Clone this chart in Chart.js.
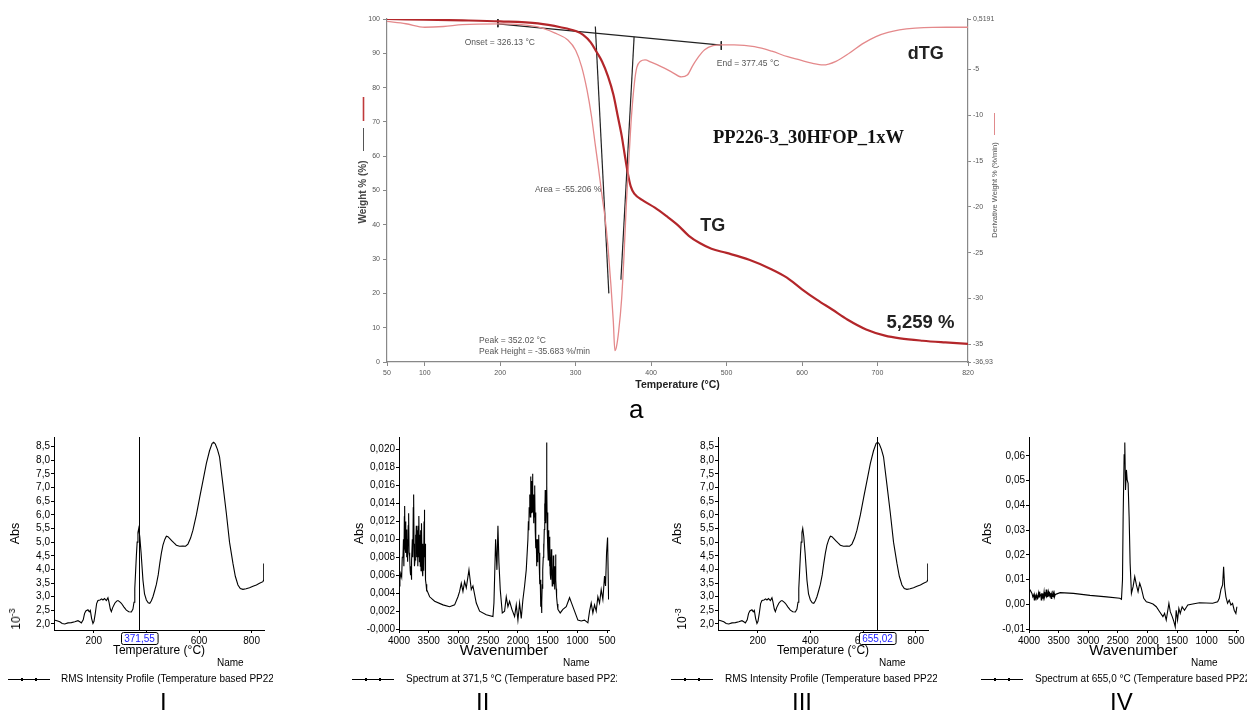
<!DOCTYPE html>
<html><head><meta charset="utf-8">
<script src="https://cdn.jsdelivr.net/npm/chart.js@4.4.1/dist/chart.umd.min.js"></script>
<style>
html,body{margin:0;padding:0;background:#fff;}
#wrap{position:relative;width:1249px;height:710px;overflow:hidden;font-family:"Liberation Sans",Arial,sans-serif;background:#fff;}
canvas{position:absolute;}
.t{position:absolute;white-space:nowrap;line-height:1;color:#000;}
.clip{overflow:hidden;}
.lg{position:absolute;height:1px;background:#000;}
.dot{position:absolute;width:2px;height:3px;background:#000;top:-1px;}
.rot{position:absolute;transform:translate(-50%,-50%) rotate(-90deg);white-space:nowrap;line-height:1;font-size:12px;}
.rot sup{font-size:9px;}
</style></head><body>
<div id="wrap">
<canvas id="main" width="700" height="400" style="left:330px;top:0;width:700px;height:400px"></canvas>
<canvas id="p1" width="280" height="232" style="left:0;top:430px;width:280px;height:232px"></canvas>
<canvas id="p2" width="290" height="232" style="left:330px;top:430px;width:290px;height:232px"></canvas>
<canvas id="p3" width="280" height="232" style="left:660px;top:430px;width:280px;height:232px"></canvas>
<canvas id="p4" width="289" height="232" style="left:960px;top:430px;width:289px;height:232px"></canvas>

<div class="t" style="left:629px;top:396px;font-size:26px;">a</div>

<div class="rot" style="left:15px;top:619px;">10<sup>-3</sup></div>
<div class="rot" style="left:681px;top:619px;">10<sup>-3</sup></div>

<div class="t" style="left:217px;top:658px;font-size:10px;">Name</div>
<div class="lg" style="left:8px;top:679px;width:42px;"><div class="dot" style="left:13px"></div><div class="dot" style="left:27px"></div></div>
<div class="t clip" style="left:61px;top:674px;width:212px;font-size:10px;">RMS Intensity Profile (Temperature based PP226-3_30HFOP_1xW)</div>
<div class="t" style="left:160px;top:690px;font-size:24px;">I</div>

<div class="t" style="left:563px;top:658px;font-size:10px;">Name</div>
<div class="lg" style="left:352px;top:679px;width:42px;"><div class="dot" style="left:13px"></div><div class="dot" style="left:27px"></div></div>
<div class="t clip" style="left:406px;top:674px;width:211px;font-size:10px;">Spectrum at 371,5 °C (Temperature based PP226-3_30HFOP_1xW)</div>
<div class="t" style="left:476px;top:690px;font-size:24px;">II</div>

<div class="t" style="left:879px;top:658px;font-size:10px;">Name</div>
<div class="lg" style="left:671px;top:679px;width:42px;"><div class="dot" style="left:13px"></div><div class="dot" style="left:27px"></div></div>
<div class="t clip" style="left:725px;top:674px;width:212px;font-size:10px;">RMS Intensity Profile (Temperature based PP226-3_30HFOP_1xW)</div>
<div class="t" style="left:792px;top:690px;font-size:24px;">III</div>

<div class="t" style="left:1191px;top:658px;font-size:10px;">Name</div>
<div class="lg" style="left:981px;top:679px;width:42px;"><div class="dot" style="left:13px"></div><div class="dot" style="left:27px"></div></div>
<div class="t clip" style="left:1035px;top:674px;width:212px;font-size:10px;">Spectrum at 655,0 °C (Temperature based PP226-3_30HFOP_1xW)</div>
<div class="t" style="left:1110px;top:690px;font-size:24px;">IV</div>
</div>
<script>
// ---------------- DATA ----------------
// Main TGA chart
const mainXTicks = [50, 100, 200, 300, 400, 500, 600, 700, 820];
const mainXLabels = ['50', '100', '200', '300', '400', '500', '600', '700', '820'];
const mainYTicks = [0, 10, 20, 30, 40, 50, 60, 70, 80, 90, 100];
const mainYLabels = ['0', '10', '20', '30', '40', '50', '60', '70', '80', '90', '100'];
const mainY2Ticks = [-36.93, -35, -30, -25, -20, -15, -10, -5, 0.5191];
const mainY2Labels = ['-36,93', '-35', '-30', '-25', '-20', '-15', '-10', '-5', '0,5191'];

const tgTemp = [50,100,150,200,250,280,300,310,320,328,335,343,350,356,361,365,369,373,378,390,405,420,435,450,465,480,500,530,560,580,600,620,640,660,685,710,730,760,790,820];
const tgWeight = [100,99.8,99.6,99.3,98.7,97.6,96.5,95.4,93.2,90.3,87.6,83.2,78,71.5,66,60.5,55.2,51.2,49,47,45,42.6,40,36.8,34.6,33,31.8,29.8,27,24.6,21.2,18.1,15.3,12.4,9.5,7.7,6.9,6.2,5.7,5.26];

const dtgTemp = [50,75,100,125,150,200,250,272,290,300,308,315,321,326,330,335,339,343,347,350,352,354,357,361,364,367.5,371,374,378,381,386,392,400,414,428,440,448,455,463,471,482,493,510,537,560,581,597,613,628,645,663,680,698,714,729,750,773,800,820];
const dtgValue = [0.25,0.0,-0.38,-0.3,-0.1,-0.02,-0.35,-1.0,-1.8,-2.9,-4.7,-7.2,-10.1,-13.2,-15.6,-18.8,-21.2,-24.5,-28.8,-32.6,-35.68,-35.3,-33.6,-30,-25.5,-19.2,-14.2,-10.1,-6.4,-4.8,-4.1,-3.95,-4.2,-4.7,-5.3,-5.8,-5.6,-4.6,-3.6,-2.85,-2.4,-2.3,-2.3,-2.5,-3.0,-3.6,-3.95,-4.3,-4.5,-4.1,-3.2,-2.2,-1.4,-0.95,-0.68,-0.48,-0.39,-0.38,-0.38];

const baseLineTemp = [197, 493];
const baseLineWeight = [98.6, 92.4];
const onsetLineTemp = [326.1, 344];
const onsetLineWeight = [97.8, 20];
const endLineTemp = [377.5, 360];
const endLineWeight = [94.8, 24];
const tickATemp = [197, 197];
const tickAWeight = [100.2, 97.6];
const tickBTemp = [493, 493];
const tickBWeight = [93.5, 91];

// RMS intensity profile (x 10^-3)
const rmsTemp = [49,60,71,80,90,102,115,128,140,147,153,160,165,170,178,183,187,192,197,201,206,211,216,224,230,235,241,248,254,258,263,267,272,280,287,292,298,305,315,324,333,343,349,353,356,359,362,365,368,371,375,380,387,393,400,407,413,419,425,431,438,445,451,457,463,470,476,482,490,497,505,514,526,539,549,558,568,577,590,603,615,628,640,650,656,662,670,678,691,704,716,729,738,748,757,767,779,792,805,818,830,843,845,846];
const rmsAbs = [2.15,2.12,2.08,2.02,2.0,2.04,2.05,2.08,2.12,2.08,2.04,2.15,2.38,2.48,2.52,2.45,2.5,2.2,2.02,2.1,2.4,2.75,2.86,2.88,2.92,2.88,2.93,2.86,2.96,2.8,2.55,2.45,2.6,2.76,2.84,2.86,2.82,2.76,2.62,2.51,2.45,2.44,2.55,2.8,3.3,3.9,4.5,5.0,5.35,5.5,5.2,4.6,3.61,3.1,2.88,2.78,2.76,2.85,3.0,3.2,3.45,3.8,4.22,4.6,4.89,5.1,5.22,5.2,5.12,5.05,4.97,4.89,4.85,4.86,4.85,4.93,5.15,5.44,6.0,6.66,7.25,7.89,8.35,8.62,8.66,8.6,8.4,8.13,7.1,6.05,5.0,4.22,3.75,3.43,3.3,3.27,3.29,3.33,3.38,3.43,3.49,3.55,3.6,4.22];
const rmsXTicks = [200, 400, 600, 800];
const rmsXLabels = ['200', '400', '600', '800'];
const rmsYTicks = [2.0, 2.5, 3.0, 3.5, 4.0, 4.5, 5.0, 5.5, 6.0, 6.5, 7.0, 7.5, 8.0, 8.5];
const rmsYLabels = ['2,0', '2,5', '3,0', '3,5', '4,0', '4,5', '5,0', '5,5', '6,0', '6,5', '7,0', '7,5', '8,0', '8,5'];

// Spectrum at 371,5 °C
const spec371Wn = [
  4000,3985,3970,3955,3945,3933,3925,3918,3910,3905,
  3898,3890,3883,3877,3870,3865,3860,3850,3845,3838,
  3830,3821,3812,3805,3798,3793,3785,3776,3768,3760,
  3754,3747,3740,3731,3724,3716,3709,3700,3692,3686,
  3681,3674,3669,3664,3657,3650,3642,3636,3630,3625,
  3619,3612,3605,3597,3590,3585,3579,3574,3568,3562,
  3557,3552,3545,3538,3530,
  3485,3401,3261,3149,3065,3009,2981,2953,2925,2897,
  2869,2824,2785,2757,2701,2645,2533,2421,2404,2376,
  2354,2337,2320,2298,2264,2225,2197,2169,2141,2102,
  2057,2029,2001,1973,1945,1917,1889,1861,
  1833,1825,1818,1812,1805,1798,1793,1788,1782,1777,
  1771,1765,1760,1755,1750,1744,1738,1732,1727,1721,
  1716,1710,1704,1698,1693,1687,1682,1676,1671,1665,
  1659,1654,1648,1642,1637,1631,1626,1620,1614,1609,
  1603,1598,1592,1587,1581,1575,1570,1564,1558,1553,
  1547,1542,1536,1530,1525,1519,1514,1508,1502,1497,
  1491,1486,1480,1474,1469,1463,1458,1452,1446,1441,
  1435,1430,1424,1418,1413,1407,1402,1396,1391,1385,
  1379,1374,1368,1362,1357,1351,1340,1329,
  1290,1245,1189,1133,1099,1049,993,937,881,825,
  797,769,741,713,685,657,629,601,573,545,
  528,511,494,477];
const spec371Abs = [
  0.0048,0.0055,0.0062,0.0058,0.0080,0.0081,0.0100,0.0070,0.0125,0.0137,
  0.0090,0.0120,0.0085,0.0111,0.0080,0.0100,0.0096,0.0075,0.0115,0.0129,
  0.0085,0.0081,0.0065,0.0060,0.0070,0.0055,0.0075,0.0100,0.0080,0.0135,
  0.0150,0.0095,0.0070,0.0077,0.0105,0.0085,0.0115,0.0080,0.0110,0.0070,
  0.0092,0.0115,0.0080,0.0126,0.0075,0.0105,0.0070,0.0110,0.0065,0.0105,
  0.0118,0.0068,0.0095,0.0059,0.0090,0.0065,0.0120,0.0133,0.0080,0.0095,
  0.0060,0.0055,0.0050,0.0042,0.0044,
  0.0036,0.0031,0.0027,0.0025,0.0027,0.0036,0.0042,0.0051,0.0042,0.0053,
  0.0046,0.0066,0.0044,0.0048,0.0029,0.0020,0.0016,0.0014,0.0029,0.0100,
  0.0066,0.0115,0.0074,0.0044,0.0018,0.0020,0.0036,0.0025,0.0031,0.0022,
  0.0014,0.0027,0.0010,0.0029,0.0012,0.0033,0.0048,0.0066,
  0.0100,0.0120,0.0110,0.0135,0.0137,0.0150,0.0125,0.0170,0.0140,0.0165,
  0.0129,0.0160,0.0140,0.0173,0.0130,0.0150,0.0118,0.0145,0.0125,0.0160,
  0.0155,0.0110,0.0130,0.0090,0.0100,0.0070,0.0095,0.0075,0.0081,0.0100,
  0.0085,0.0105,0.0103,0.0070,0.0085,0.0050,0.0055,0.0040,0.0025,0.0035,
  0.0018,0.0030,0.0050,0.0045,0.0066,0.0080,0.0095,0.0085,0.0111,0.0140,
  0.0120,0.0155,0.0140,0.0118,0.0150,0.0208,0.0160,0.0111,0.0130,0.0090,
  0.0077,0.0110,0.0080,0.0103,0.0070,0.0095,0.0062,0.0080,0.0055,0.0089,
  0.0060,0.0070,0.0048,0.0065,0.0055,0.0082,0.0077,0.0050,0.0065,0.0044,
  0.0070,0.0060,0.0083,0.0055,0.0045,0.0036,0.0028,0.0022,
  0.0018,0.0022,0.0025,0.0035,0.0029,0.0020,0.0010,0.0009,0.0010,0.0007,
  0.0020,0.0029,0.0018,0.0027,0.0020,0.0036,0.0029,0.0044,0.0033,0.0059,
  0.0048,0.0085,0.0102,0.0033];
const specXTicks = [4000, 3500, 3000, 2500, 2000, 1500, 1000, 500];
const specXLabels = ['4000', '3500', '3000', '2500', '2000', '1500', '1000', '500'];
const spec371YTicks = [0, 0.002, 0.004, 0.006, 0.008, 0.010, 0.012, 0.014, 0.016, 0.018, 0.020];
const spec371YLabels = ['-0,000', '0,002', '0,004', '0,006', '0,008', '0,010', '0,012', '0,014', '0,016', '0,018', '0,020'];

// Spectrum at 655,0 °C
const spec655Wn = [
  4000,3975,3950,3935,3920,3910,3900,3890,3877,3865,
  3849,3840,3830,3821,3810,3800,3793,3785,3775,3765,
  3755,3745,3737,3725,3715,3709,3700,3690,3681,3670,
  3660,3653,3645,3635,3625,3615,3605,3597,3585,3575,
  3569,3555,3541,
  3474,3250,2970,2690,2466,2438,2421,2410,2393,2382,
  2370,2354,2342,2326,2309,2292,2270,2242,2214,2186,
  2158,2130,2102,2062,2018,1962,1906,1850,1794,1738,
  1710,1682,1637,1614,1581,1553,1530,1514,1491,1469,
  1446,1413,1374,1318,1234,1122,1010,898,814,786,
  758,730,713,696,674,646,618,590,562,534,
  506,489];
const spec655Abs = [
  0.0064,0.0055,0.0044,0.0030,0.0038,0.0017,0.0035,0.0025,0.0038,0.0020,
  0.0024,0.0045,0.0030,0.0051,0.0035,0.0040,0.0017,0.0045,0.0025,0.0044,
  0.0028,0.0050,0.0030,0.0042,0.0035,0.0060,0.0028,0.0045,0.0030,0.0050,
  0.0035,0.0051,0.0030,0.0045,0.0024,0.0040,0.0032,0.0055,0.0035,0.0045,
  0.0030,0.0040,0.0041,
  0.0047,0.0044,0.0036,0.0030,0.0024,0.0020,0.0098,0.0354,0.0604,0.0654,
  0.0462,0.0543,0.0503,0.0489,0.0354,0.0166,0.0044,0.0071,0.0112,0.0078,
  0.0051,0.0085,0.0064,0.0024,0.0010,0.0006,0.0001,-0.0010,-0.0030,-0.0050,
  -0.0037,-0.0064,0.0003,-0.0030,-0.0050,-0.0070,-0.0091,-0.0024,-0.0064,-0.0017,
  -0.0037,-0.0010,-0.0024,-0.0003,0.0001,0.0006,0.0005,0.0004,0.0010,0.0024,
  0.0060,0.0078,0.0152,0.0071,0.0030,0.0004,0.0017,-0.0003,0.0004,-0.0024,
  -0.0037,-0.0010];
const spec655YTicks = [-0.01, 0, 0.01, 0.02, 0.03, 0.04, 0.05, 0.06];
const spec655YLabels = ['-0,01', '0,00', '0,01', '0,02', '0,03', '0,04', '0,05', '0,06'];

// ---------------- HELPERS ----------------
const F = '"Liberation Sans", Arial, sans-serif';
const zip = (xs, ys) => xs.slice(0, Math.min(xs.length, ys.length)).map((x, i) => ({x: x, y: ys[i]}));
const fixTicks = arr => (s => { s.ticks = arr.map(v => ({value: v})); });

// Main chart decorations: axis titles and annotations
const mainAnnotations = [
  {text: 'Onset = 326.13 °C', t: 153, w: 93.1, font: '8.5px ' + F, color: '#555'},
  {text: 'End = 377.45 °C', t: 487, w: 87.1, font: '8.5px ' + F, color: '#555'},
  {text: 'Area = -55.206 %', t: 246, w: 50.2, font: '8.5px ' + F, color: '#555'},
  {text: 'Peak = 352.02 °C', t: 172, w: 6.3, font: '8.5px ' + F, color: '#555'},
  {text: 'Peak Height = -35.683 %/min', t: 172, w: 2.9, font: '8.5px ' + F, color: '#555'},
  {text: 'PP226-3_30HFOP_1xW', t: 482, w: 65.3, font: 'bold 18.5px "Liberation Serif", "Times New Roman", serif', color: '#111'},
  {text: 'TG', t: 465, w: 39.5, font: 'bold 18px ' + F, color: '#222'},
  {text: 'dTG', t: 740, w: 89.8, font: 'bold 18px ' + F, color: '#222'},
  {text: '5,259 %', t: 712, w: 11.4, font: 'bold 18.5px ' + F, color: '#222'}
];
const mainDecor = {
  id: 'mainDecor',
  afterDraw(chart) {
    const {ctx, scales} = chart;
    ctx.save();
    ctx.textBaseline = 'middle';
    ctx.textAlign = 'left';
    mainAnnotations.forEach(a => {
      ctx.font = a.font;
      ctx.fillStyle = a.color;
      ctx.fillText(a.text, scales.x.getPixelForValue(a.t), scales.y.getPixelForValue(a.w));
    });
    // left axis title
    ctx.save();
    ctx.translate(33.5, 192);
    ctx.rotate(-Math.PI / 2);
    ctx.font = 'bold 10px ' + F;
    ctx.fillStyle = '#444';
    ctx.textAlign = 'center';
    ctx.fillText('Weight % (%)', 0, 0);
    ctx.restore();
    ctx.strokeStyle = '#555'; ctx.lineWidth = 1;
    ctx.beginPath(); ctx.moveTo(33.5, 151); ctx.lineTo(33.5, 128); ctx.stroke();
    ctx.strokeStyle = '#c0393b'; ctx.lineWidth = 1.6;
    ctx.beginPath(); ctx.moveTo(33.5, 121); ctx.lineTo(33.5, 97); ctx.stroke();
    // right axis title
    ctx.save();
    ctx.translate(664.5, 190);
    ctx.rotate(-Math.PI / 2);
    ctx.font = '7.5px ' + F;
    ctx.fillStyle = '#555';
    ctx.textAlign = 'center';
    ctx.fillText('Derivative Weight % (%/min)', 0, 0);
    ctx.restore();
    ctx.strokeStyle = '#e08a8c'; ctx.lineWidth = 1;
    ctx.beginPath(); ctx.moveTo(664.5, 135); ctx.lineTo(664.5, 113); ctx.stroke();
    ctx.restore();
  }
};

// marker line + value box for RMS profiles
const markerPlugin = {
  id: 'marker',
  afterDraw(chart, args, opts) {
    if (!opts || opts.value == null) return;
    const {ctx, chartArea, scales} = chart;
    const px = Math.round(scales.x.getPixelForValue(opts.value)) + 0.5;
    ctx.save();
    ctx.strokeStyle = '#000'; ctx.lineWidth = 1;
    ctx.beginPath(); ctx.moveTo(px, chartArea.top); ctx.lineTo(px, chartArea.bottom); ctx.stroke();
    ctx.font = '10px ' + F;
    const w = ctx.measureText(opts.label).width + 6, h = 12;
    const bx = Math.round(px - w / 2) + 0.5, by = chartArea.bottom + 2.5;
    ctx.beginPath();
    if (ctx.roundRect) ctx.roundRect(bx, by, w, h, 2); else ctx.rect(bx, by, w, h);
    ctx.fillStyle = '#fff'; ctx.fill(); ctx.stroke();
    ctx.fillStyle = '#1a1aff'; ctx.textAlign = 'center'; ctx.textBaseline = 'middle';
    ctx.fillText(opts.label, px, by + h / 2 + 0.5);
    ctx.restore();
  }
};

// ---------------- MAIN CHART ----------------
const lineDs = (xs, ys, color, width, extra) => Object.assign({
  data: zip(xs, ys), borderColor: color, borderWidth: width, pointRadius: 0, fill: false, tension: 0
}, extra || {});

new Chart(document.getElementById('main'), {
  type: 'line',
  data: {
    datasets: [
      lineDs(dtgTemp, dtgValue, '#e4898b', 1.3, {yAxisID: 'y1', cubicInterpolationMode: 'monotone'}),
      lineDs(tgTemp, tgWeight, '#b3262a', 2.2, {yAxisID: 'y', cubicInterpolationMode: 'monotone'}),
      lineDs(baseLineTemp, baseLineWeight, '#222', 1.2, {yAxisID: 'y'}),
      lineDs(onsetLineTemp, onsetLineWeight, '#222', 1.2, {yAxisID: 'y'}),
      lineDs(endLineTemp, endLineWeight, '#222', 1.2, {yAxisID: 'y'}),
      lineDs(tickATemp, tickAWeight, '#222', 1, {yAxisID: 'y'}),
      lineDs(tickBTemp, tickBWeight, '#222', 1, {yAxisID: 'y'})
    ]
  },
  options: {
    responsive: false, animation: false, devicePixelRatio: 1,
    layout: {padding: {top: 19, left: 0, right: 0, bottom: 0}},
    plugins: {legend: {display: false}, tooltip: {enabled: false}},
    scales: {
      x: {
        type: 'linear', min: 50, max: 820,
        afterBuildTicks: fixTicks(mainXTicks),
        afterFit: s => { s.height = 38; },
        ticks: {autoSkip: false, maxRotation: 0, padding: 3, color: '#555', font: {family: F, size: 7},
          callback: (v, i) => mainXLabels[i]},
        grid: {drawOnChartArea: false, tickLength: 4, color: '#888'},
        border: {color: '#888', width: 1.2},
        title: {display: true, text: 'Temperature (°C)', color: '#222', font: {family: F, size: 10.5, weight: 'bold'},
          padding: {top: 0, bottom: 8.7}}
      },
      y: {
        position: 'left', min: 0, max: 100,
        afterBuildTicks: fixTicks(mainYTicks),
        afterFit: s => { s.width = 57; },
        ticks: {autoSkip: false, padding: 3, color: '#555', font: {family: F, size: 7},
          callback: (v, i) => mainYLabels[i]},
        grid: {drawOnChartArea: false, tickLength: 4, color: '#888'},
        border: {color: '#888', width: 1.2}
      },
      y1: {
        position: 'right', min: -36.93, max: 0.5191,
        afterBuildTicks: fixTicks(mainY2Ticks),
        afterFit: s => { s.width = 62; },
        ticks: {autoSkip: false, padding: 2, color: '#555', font: {family: F, size: 7},
          callback: (v, i) => mainY2Labels[i]},
        grid: {drawOnChartArea: false, tickLength: 3, color: '#888'},
        border: {color: '#888', width: 1.2}
      }
    }
  },
  plugins: [mainDecor]
});

// ---------------- SMALL PANELS ----------------
function smallPanel(id, c) {
  return new Chart(document.getElementById(id), {
    type: 'line',
    data: {datasets: [lineDs(c.xs, c.ys, '#000', 1.1)]},
    options: {
      responsive: false, animation: false, devicePixelRatio: 1,
      layout: {padding: {top: 7, right: c.padRight, left: 0, bottom: 0}},
      plugins: {legend: {display: false}, tooltip: {enabled: false}, marker: c.marker || {}},
      scales: {
        x: {
          type: 'linear', reverse: !!c.reverse, min: c.xMin, max: c.xMax,
          afterBuildTicks: fixTicks(c.xTicks),
          afterFit: s => { s.height = 32; },
          ticks: {autoSkip: false, maxRotation: 0, padding: 2, color: '#000', font: {family: F, size: 10},
            callback: (v, i) => c.xLabels[i]},
          grid: {drawOnChartArea: false, tickLength: 3, color: '#000'},
          border: {color: '#000', width: 1},
          title: {display: true, text: c.xTitle, color: '#000', font: {family: F, size: c.xTitleSize},
            padding: {top: 0, bottom: c.xTitlePad}}
        },
        y: {
          min: c.yMin, max: c.yMax,
          afterBuildTicks: fixTicks(c.yTicks),
          afterFit: s => { s.width = c.yWidth; },
          ticks: {autoSkip: false, padding: 1, color: '#000', font: {family: F, size: 10},
            callback: (v, i) => c.yLabels[i]},
          grid: {drawOnChartArea: false, tickLength: 3, color: '#000'},
          border: {color: '#000', width: 1},
          title: {display: true, text: 'Abs', color: '#000', font: {family: F, size: 12.5},
            padding: {top: c.absPad, bottom: 0}}
        }
      }
    },
    plugins: [markerPlugin]
  });
}

smallPanel('p1', {
  xs: rmsTemp, ys: rmsAbs, xMin: 49, xMax: 847, xTicks: rmsXTicks, xLabels: rmsXLabels,
  yMin: 1.78, yMax: 8.855, yTicks: rmsYTicks, yLabels: rmsYLabels,
  yWidth: 54, padRight: 16, absPad: 8, xTitle: 'Temperature (°C)', xTitleSize: 12, xTitlePad: 4,
  marker: {value: 371.55, label: '371,55'}
});
smallPanel('p2', {
  xs: spec371Wn, ys: spec371Abs, reverse: true, xMin: 470, xMax: 4000, xTicks: specXTicks, xLabels: specXLabels,
  yMin: -0.0001, yMax: 0.0214, yTicks: spec371YTicks, yLabels: spec371YLabels,
  yWidth: 69, padRight: 11, absPad: 22, xTitle: 'Wavenumber', xTitleSize: 15, xTitlePad: 2.3
});
smallPanel('p3', {
  xs: rmsTemp, ys: rmsAbs, xMin: 49, xMax: 847, xTicks: rmsXTicks, xLabels: rmsXLabels,
  yMin: 1.78, yMax: 8.855, yTicks: rmsYTicks, yLabels: rmsYLabels,
  yWidth: 58, padRight: 12, absPad: 10.5, xTitle: 'Temperature (°C)', xTitleSize: 12, xTitlePad: 4,
  marker: {value: 655.02, label: '655,02'}
});
smallPanel('p4', {
  xs: spec655Wn, ys: spec655Abs, reverse: true, xMin: 470, xMax: 4000, xTicks: specXTicks, xLabels: specXLabels,
  yMin: -0.0104, yMax: 0.0676, yTicks: spec655YTicks, yLabels: spec655YLabels,
  yWidth: 69, padRight: 11, absPad: 20.5, xTitle: 'Wavenumber', xTitleSize: 15, xTitlePad: 2.3
});
</script>
</body></html>
